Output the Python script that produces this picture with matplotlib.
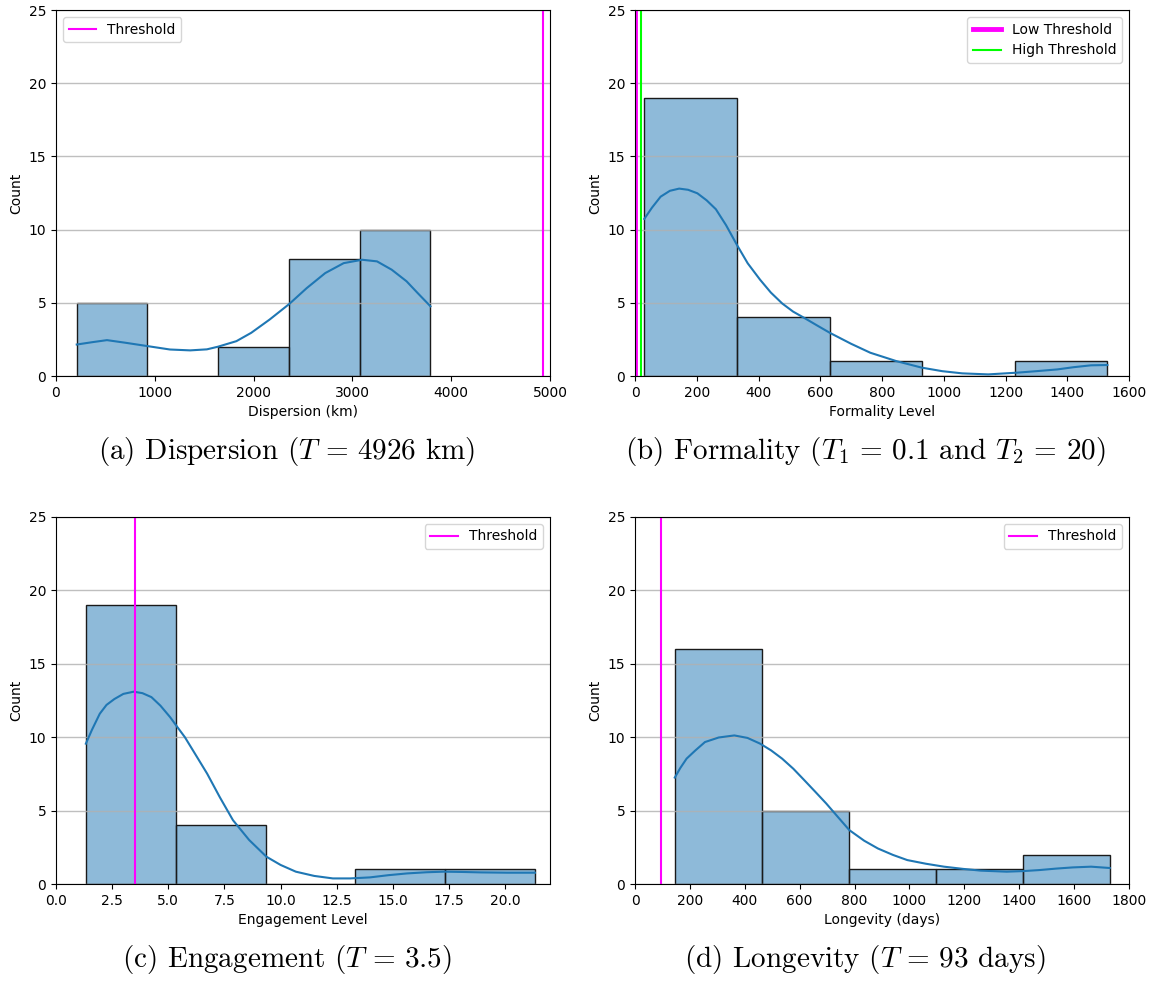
import numpy as np
import matplotlib
matplotlib.use("Agg")
import matplotlib.pyplot as plt

plt.rcParams['mathtext.fontset'] = 'cm'

# ---------------- data ----------------
# (a) Dispersion
disp_edges = [210, 926, 1642, 2358, 3074, 3790]
disp_counts = [5, 0, 2, 8, 10]
disp_kde_x = [210, 367, 516, 704, 928, 1153, 1358, 1527, 1639, 1826, 1976, 2163,
              2361, 2537, 2725, 2912, 3099, 3249, 3398, 3548, 3660, 3790]
disp_kde_y = [2.15, 2.31, 2.45, 2.27, 2.04, 1.81, 1.75, 1.82, 2.0, 2.38, 2.95, 3.86,
              4.92, 6.0, 7.03, 7.71, 7.94, 7.83, 7.26, 6.47, 5.67, 4.76]
disp_threshold = 4926

# (b) Formality
form_edges = [30, 330, 630, 930, 1230, 1530]
form_counts = [19, 4, 1, 0, 1]
form_kde_x = [30, 55, 83, 113, 143, 172, 202, 232, 262, 295, 330, 365, 405, 440,
              477, 512, 548, 590, 631, 700, 762, 846, 929, 995, 1060, 1144, 1239,
              1300, 1368, 1420, 1477, 1530]
form_kde_y = [10.73, 11.5, 12.25, 12.65, 12.8, 12.72, 12.48, 12.0, 11.39, 10.3,
              8.96, 7.7, 6.58, 5.7, 4.95, 4.4, 3.97, 3.45, 2.95, 2.2, 1.59, 1.02,
              0.57, 0.33, 0.18, 0.11, 0.23, 0.33, 0.45, 0.6, 0.73, 0.75]
form_low_threshold = 0.1
form_high_threshold = 20

# (c) Engagement
eng_edges = [1.33, 5.33, 9.33, 13.33, 17.33, 21.33]
eng_counts = [19, 4, 0, 1, 1]
eng_kde_x = [1.33, 1.6, 1.95, 2.25, 2.6, 3.0, 3.46, 3.85, 4.25, 4.65, 5.08, 5.4,
             5.74, 6.2, 6.73, 7.3, 7.88, 8.6, 9.37, 10.0, 10.68, 11.5, 12.33,
             13.1, 13.98, 14.8, 15.63, 16.5, 17.28, 18.1, 18.93, 20.1, 21.33]
eng_kde_y = [9.56, 10.5, 11.6, 12.2, 12.6, 12.95, 13.1, 13.0, 12.73, 12.15, 11.37,
             10.7, 10.0, 8.85, 7.52, 5.9, 4.35, 3.0, 1.86, 1.3, 0.84, 0.55, 0.38,
             0.38, 0.45, 0.6, 0.72, 0.8, 0.84, 0.82, 0.79, 0.77, 0.77]
eng_threshold = 3.5

# (d) Longevity
long_edges = [145, 462, 779, 1096, 1413, 1730]
long_counts = [16, 5, 1, 1, 2]
long_kde_x = [145, 165, 188, 220, 255, 305, 362, 410, 456, 496, 536, 577, 617, 657,
              697, 740, 781, 835, 885, 940, 992, 1060, 1126, 1195, 1260, 1354,
              1415, 1474, 1535, 1595, 1662, 1730]
long_kde_y = [7.25, 7.9, 8.54, 9.1, 9.67, 9.98, 10.12, 9.95, 9.56, 9.1, 8.54, 7.85,
              7.07, 6.28, 5.48, 4.55, 3.67, 2.95, 2.42, 1.98, 1.63, 1.38, 1.18,
              1.03, 0.91, 0.84, 0.88, 0.95, 1.05, 1.13, 1.18, 1.09]
long_threshold = 93

xlabels = ["Dispersion (km)", "Formality Level", "Engagement Level", "Longevity (days)"]
xlims = [(0, 5000), (0, 1600), (0, 22), (0, 1800)]
captions = [r"(a) Dispersion ($T\,=\,4926$ km)",
            r"(b) Formality ($T_1\,=\,0.1$ and $T_2\,=\,20$)",
            r"(c) Engagement ($T\,=\,3.5$)",
            r"(d) Longevity ($T\,=\,93$ days)"]

# ---------------- figure ----------------
W, H = 1153, 981
fig = plt.figure(figsize=(W / 100, H / 100), dpi=100)

def add_ax(left, top, right, bottom):
    return fig.add_axes([left / W, 1 - bottom / H, (right - left) / W, (bottom - top) / H])

axa = add_ax(56, 10, 550, 376)
axb = add_ax(635, 10, 1129, 376)
axc = add_ax(56, 517, 550, 884)
axd = add_ax(635, 517, 1129, 884)

C0 = '#1f77b4'

def draw_hist(ax, edges, counts, kx, ky):
    edges = np.asarray(edges, float)
    ax.bar(edges[:-1], counts, width=np.diff(edges), align='edge',
           facecolor=(0.122, 0.467, 0.706, 0.5), edgecolor='#1a1a1a', linewidth=1.0,
           zorder=1)
    ax.plot(kx, ky, color=C0, lw=1.5, zorder=2)

draw_hist(axa, disp_edges, disp_counts, disp_kde_x, disp_kde_y)
axa.axvline(disp_threshold, color='#ff00ff', lw=1.5, label='Threshold')
axa.legend(loc='upper left')

draw_hist(axb, form_edges, form_counts, form_kde_x, form_kde_y)
axb.axvline(form_low_threshold, color='#ff00ff', lw=3.5, label='Low Threshold')
axb.axvline(form_high_threshold, color='#00ff00', lw=1.5, label='High Threshold')
axb.legend(loc='upper right')

draw_hist(axc, eng_edges, eng_counts, eng_kde_x, eng_kde_y)
axc.axvline(eng_threshold, color='#ff00ff', lw=1.5, label='Threshold')
axc.legend(loc='upper right')

draw_hist(axd, long_edges, long_counts, long_kde_x, long_kde_y)
axd.axvline(long_threshold, color='#ff00ff', lw=1.5, label='Threshold')
axd.legend(loc='upper right')

for ax, xl, lim in zip([axa, axb, axc, axd], xlabels, xlims):
    ax.set_xlim(*lim)
    ax.set_ylim(0, 25)
    ax.set_yticks([0, 5, 10, 15, 20, 25])
    ax.set_xlabel(xl)
    ax.set_ylabel("Count")
    ax.grid(axis='y', color='#b0b0b0', lw=1.0, alpha=0.8)

cap_pos = [(287, 452), (865, 452), (287, 960), (865, 960)]
for (cx, cy), txt in zip(cap_pos, captions):
    fig.text(cx / W, 1 - cy / H, txt, ha='center', va='center',
             family='cmr10', fontsize=21)

fig.savefig("out.png", dpi=100)
